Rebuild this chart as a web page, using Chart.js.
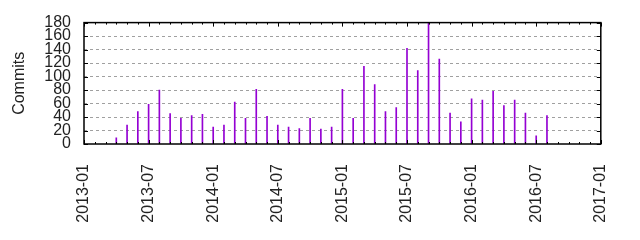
<!DOCTYPE html>
<html>
<head>
<meta charset="utf-8">
<script src="https://cdn.jsdelivr.net/npm/chart.js@4"></script>
<style>
  html, body { margin: 0; padding: 0; background: #fff; }
  #wrap { width: 640px; height: 240px; }
</style>
</head>
<body>
<div id="wrap"><canvas id="c" width="640" height="240"></canvas></div>
<script>
// months since 2013-01
const startYear = 2013;
const months = [3, 4, 5, 6, 7, 8, 9, 10, 11, 12, 13, 14, 15, 16, 17, 18, 19, 20, 21, 22, 23, 24, 25, 26, 27, 28, 29, 30, 31, 32, 33, 34, 35, 36, 37, 38, 39, 40, 41, 42, 43];
const commits = [9, 28, 48, 59, 80, 45, 38, 42, 44, 25, 28, 62, 38, 81, 41, 28, 25, 23, 38, 22, 25, 81, 38, 115, 88, 48, 54, 142, 109, 180, 126, 46, 33, 67, 65, 78, 57, 65, 46, 12, 42];
const yTicks = [0, 20, 40, 60, 80, 100, 120, 140, 160, 180];
const xTickLabels = ['2013-01', '2013-07', '2014-01', '2014-07', '2015-01', '2015-07', '2016-01', '2016-07', '2017-01'];

const FONT = { family: '"Liberation Sans", Arial, sans-serif', size: 16 };

// gnuplot style inward ticks on all four sides
const tickPlugin = {
  id: 'gnuTicks',
  afterDraw(chart) {
    const { ctx, chartArea: a } = chart;
    const xs = chart.scales.x, ys = chart.scales.y;
    ctx.save();
    ctx.strokeStyle = '#000';
    ctx.lineWidth = 1;
    ctx.beginPath();
    for (let m = 0; m <= 48; m++) {
      const px = Math.round(xs.getPixelForValue(m)) + 0.5;
      const len = m % 6 === 0 ? 4 : 2;
      ctx.moveTo(px, a.top); ctx.lineTo(px, a.top + len);
      ctx.moveTo(px, a.bottom); ctx.lineTo(px, a.bottom - len);
    }
    yTicks.forEach(v => {
      const py = Math.round(ys.getPixelForValue(v)) + 0.5;
      ctx.moveTo(a.left, py); ctx.lineTo(a.left + 4, py);
      ctx.moveTo(a.right, py); ctx.lineTo(a.right - 4, py);
    });
    ctx.stroke();
    ctx.lineWidth = 1.5;
    ctx.strokeRect(a.left, a.top, a.right - a.left, a.bottom - a.top);
    ctx.restore();
  }
};

new Chart(document.getElementById('c'), {
  type: 'bar',
  data: {
    datasets: [{
      data: months.map((m, i) => ({ x: m, y: commits[i] })),
      backgroundColor: '#9400d3',
      borderWidth: 0,
      barThickness: 1,
    }],
  },
  options: {
    responsive: false,
    animation: false,
    events: [],
    layout: { padding: { top: 20, right: 31, left: 10, bottom: 0 } },
    plugins: { legend: { display: false }, tooltip: { enabled: false } },
    scales: {
      x: {
        type: 'linear',
        min: 0,
        max: 48,
        offset: false,
        afterFit: s => { s.height = 96; },
        grid: { display: false, drawTicks: false },
        border: { display: false },
        afterBuildTicks: s => {
          s.ticks = xTickLabels.map((l, i) => ({ value: i * 6 }));
        },
        ticks: {
          autoSkip: false,
          maxRotation: 90,
          minRotation: 90,
          padding: 20,
          color: '#222',
          font: FONT,
          callback: (v, i) => xTickLabels[i],
        },
      },
      y: {
        min: 0,
        max: 180,
        afterFit: s => { s.width = 74; },
        afterBuildTicks: s => { s.ticks = yTicks.map(v => ({ value: v })); },
        grid: {
          drawTicks: false,
          color: ctx => (ctx.tick && (ctx.tick.value === 0 || ctx.tick.value === 180)) ? 'rgba(0,0,0,0)' : '#a0a0a0',
          lineWidth: 1,
        },
        border: { display: false, dash: [3, 3] },
        ticks: {
          autoSkip: false,
          padding: 13,
          color: '#222',
          font: FONT,
        },
        title: {
          display: true,
          text: 'Commits',
          color: '#222',
          font: FONT,
          padding: { top: 0, bottom: 8 },
        },
      },
    },
  },
  plugins: [tickPlugin],
});
</script>
</body>
</html>
